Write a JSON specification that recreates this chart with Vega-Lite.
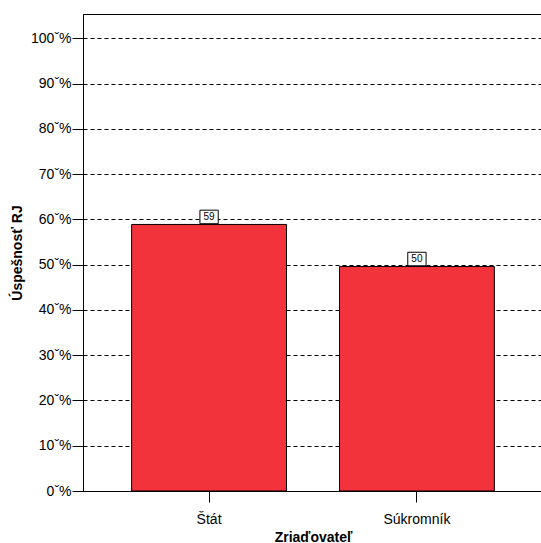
{
  "$schema": "https://vega.github.io/schema/vega-lite/v6.json",
  "autosize": {"type": "none"},
  "padding": {"left": 83, "top": 14, "right": 0, "bottom": 52},
  "width": 460,
  "height": 477,
  "background": "white",
  "config": {
    "font": "Liberation Sans",
    "view": {"stroke": "black", "strokeWidth": 1}
  },
  "data": {
    "values": [
      {"Zriadovatel": "Štát", "value": 58.9, "label": "59"},
      {"Zriadovatel": "Súkromník", "value": 49.6, "label": "50"}
    ]
  },
  "encoding": {
    "x": {
      "field": "Zriadovatel",
      "type": "nominal",
      "sort": null,
      "scale": {"paddingInner": 0.255, "paddingOuter": 0.234},
      "axis": {
        "title": "Zriaďovateľ",
        "titleFont": "Liberation Sans",
        "titleFontSize": 14,
        "titleFontWeight": "bold",
        "titleColor": "black",
        "titlePadding": 4,
        "labelAngle": 0,
        "labelFont": "Liberation Sans",
        "labelFontSize": 14,
        "labelColor": "black",
        "labelPadding": 10,
        "tickSize": 11,
        "tickColor": "black",
        "domainColor": "black",
        "grid": false
      }
    },
    "y": {
      "field": "value",
      "type": "quantitative",
      "scale": {"domain": [0, 105.4], "nice": false, "zero": true},
      "axis": {
        "title": "Úspešnosť RJ",
        "titleFont": "Liberation Sans",
        "titleFontSize": 14,
        "titleFontWeight": "bold",
        "titleColor": "black",
        "titlePadding": 6,
        "values": [0, 10, 20, 30, 40, 50, 60, 70, 80, 90, 100],
        "labelExpr": "datum.value + 'ˇ%'",
        "labelFont": "Liberation Sans",
        "labelFontSize": 14,
        "labelColor": "black",
        "labelPadding": 1,
        "tickSize": 11,
        "tickColor": "black",
        "domainColor": "black",
        "grid": true,
        "gridColor": "black",
        "gridDash": [4, 3],
        "gridWidth": 1
      }
    }
  },
  "layer": [
    {
      "mark": {"type": "bar", "color": "#F2333C", "stroke": "black", "strokeWidth": 1}
    },
    {
      "mark": {
        "type": "point",
        "shape": "M-1,-0.74L1,-0.74L1,0.74L-1,0.74Z",
        "size": 335,
        "filled": true,
        "fill": "white",
        "stroke": "black",
        "strokeWidth": 1,
        "opacity": 1,
        "yOffset": -7.5
      }
    },
    {
      "mark": {
        "type": "text",
        "font": "Liberation Sans",
        "fontSize": 10,
        "color": "black",
        "baseline": "middle",
        "dy": -7.5
      },
      "encoding": {"text": {"field": "label"}}
    }
  ]
}
